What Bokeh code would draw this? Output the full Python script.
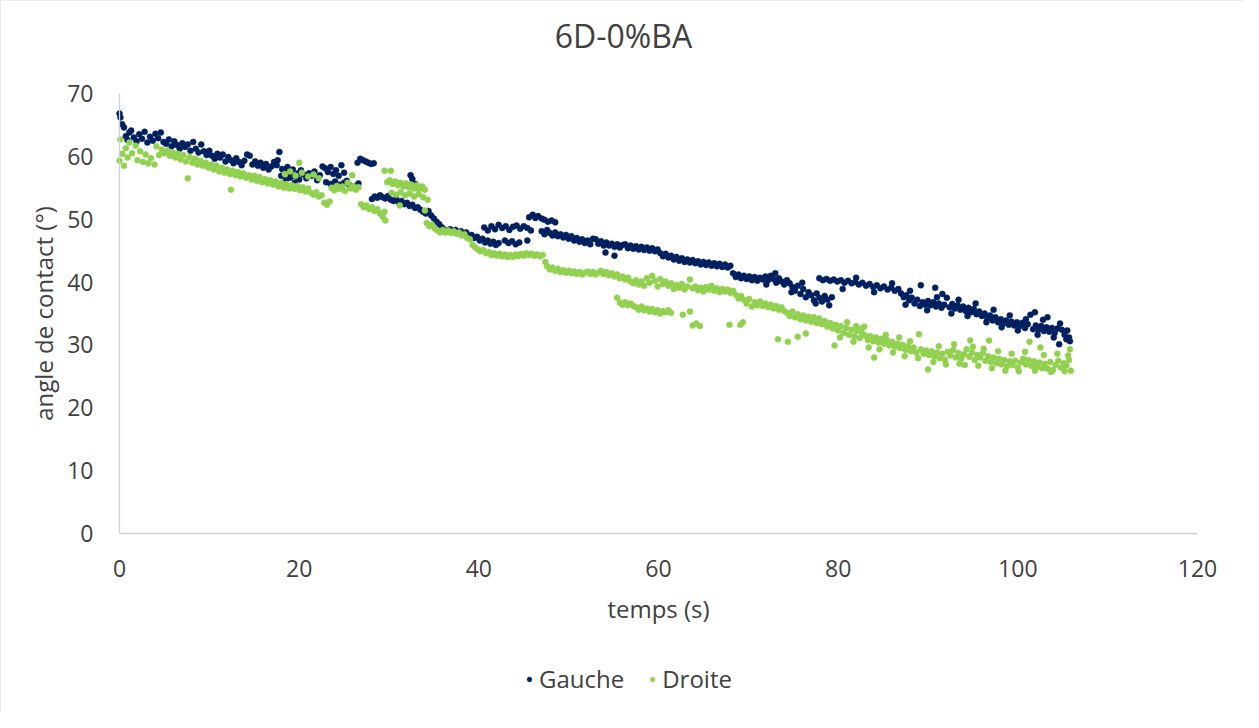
from bokeh.plotting import figure
from bokeh.models import Range1d, Legend, LegendItem, FixedTicker, ColumnDataSource, Label
from bokeh.embed import file_html
from bokeh.resources import INLINE

title_text = "6D-0%BA"
x_label = "temps (s)"
y_label = "angle de contact (°)"
series_names = ["Gauche", "Droite"]
x_ticks = [0, 20, 40, 60, 80, 100, 120]
y_ticks = [0, 10, 20, 30, 40, 50, 60, 70]

# (temps, angle)
gauche_points = [
    (0.0,66.8),(0.1,66.2),(0.3,65.1),(0.5,64.6),(0.7,63.2),(0.9,62.6),(1.1,63.8),(1.3,64.1),(1.6,63.0),(1.9,62.4),
    (2.2,63.5),(2.5,62.8),(2.8,63.9),(3.1,62.2),(3.4,63.1),(3.7,62.5),(4.0,63.6),(4.3,62.9),(4.6,63.8),(4.9,62.3),
    (5.2,62.0),(5.5,62.7),(5.8,61.6),(6.1,62.4),(6.4,61.8),(6.7,61.2),(7.0,62.1),(7.3,61.5),(7.6,61.9),(7.9,60.9),
    (8.2,62.3),(8.5,61.2),(8.8,60.6),(9.1,61.9),(9.4,60.8),(9.7,60.2),(10.0,60.9),
    (10.3,60.1),(10.6,59.6),(10.9,60.4),(11.2,59.8),(11.5,60.3),(11.8,59.2),(12.1,59.9),(12.4,59.4),(12.7,58.9),
    (13.0,59.7),(13.3,59.1),(13.6,58.6),(13.9,59.3),(14.2,60.3),(14.5,60.1),(14.8,58.7),(15.1,59.2),
    (15.4,58.5),(15.7,59.0),(16.0,58.2),(16.3,58.8),(16.6,57.9),(16.9,58.4),(17.2,59.1),(17.5,58.6),(17.8,60.7),
    (17.6,59.4),(18.1,58.0),(18.4,57.6),(18.7,58.3),(19.0,57.4),(19.3,57.9),(19.6,56.8),(19.9,57.3),
    (18.0,56.9),(18.5,56.2),(19.0,56.6),(19.5,55.8),(20.0,56.3),
    (20.2,57.8),(20.5,57.1),(20.8,56.5),(21.1,57.3),(21.4,56.9),(21.7,57.6),(22.0,56.2),(22.3,57.0),(22.6,58.4),
    (22.9,58.1),(23.2,57.5),(23.5,58.3),(23.8,57.2),(24.1,57.8),(24.4,56.9),(24.7,58.6),(25.0,57.4),(25.3,56.1),
    (23.0,55.9),(23.5,55.6),(24.0,56.0),(24.5,55.5),(25.0,55.8),(26.6,55.7),
    (25.6,55.4),(25.9,55.0),(26.2,55.3),(26.5,59.0),(26.8,59.6),(27.1,59.4),(27.4,59.2),(27.7,59.0),(28.0,58.8),(28.3,58.9),
    (28.1,53.2),(28.4,53.6),(28.7,53.4),(29.0,53.8),(29.3,53.5),(29.6,53.3),(29.9,53.7),(30.2,53.1),(30.5,52.9),
    (30.8,53.2),(31.1,52.7),(31.4,52.9),(31.7,52.4),(32.0,52.6),(32.3,52.1),(32.6,52.3),(32.9,51.8),(33.2,51.9),
    (33.5,51.5),(33.8,51.2),(34.1,50.9),(34.4,51.3),(34.7,50.6),(35.0,50.1),(35.3,49.6),(35.6,49.2),(35.9,48.7),(36.2,48.3),
    (32.4,57.0),(32.6,56.4),(32.9,55.6),(33.2,55.0),
    (36.5,48.1),(36.8,48.4),(37.1,48.0),(37.4,48.3),(37.7,47.8),(38.0,48.1),(38.3,47.6),(38.6,47.9),(38.9,47.3),
    (39.2,47.5),(39.5,47.0),(39.8,47.2),(40.1,46.6),(40.4,46.9),(40.7,46.3),(41.0,46.6),(41.3,46.1),(41.6,46.4),
    (41.9,45.9),(42.2,46.2),
    (40.6,48.7),(41.0,48.2),(41.4,48.9),(41.8,48.4),(42.2,49.1),(42.6,48.6),(43.0,48.9),(43.4,48.3),(43.8,48.8),
    (44.2,49.0),(44.6,48.5),(45.0,48.9),(45.4,48.6),(45.8,48.2),
    (42.9,46.6),(43.3,46.2),(43.7,46.5),(44.1,46.0),(44.5,46.3),(45.4,46.6),
    (45.6,50.3),(46.0,50.7),(46.3,50.2),(46.6,50.5),(47.0,50.1),(47.3,49.9),(47.7,49.6),(48.1,49.8),(48.5,49.5),
    (47.0,48.1),(47.3,47.6),(47.6,48.3),(47.9,47.8),(48.2,47.4),(48.5,47.9),(48.8,47.3),(49.1,47.6),(49.4,47.1),
    (49.7,47.5),(50.0,46.9),(50.3,47.3),(50.6,46.6),(50.9,47.0),(51.2,46.4),(51.5,46.8),(51.8,46.2),(52.1,46.6),
    (52.4,46.0),(52.7,46.9),(53.0,46.8),(53.3,46.1),(53.6,46.5),(53.9,45.8),(54.1,44.7),(55.1,44.2),
    (54.2,46.3),(54.5,45.8),(54.8,46.1),(55.1,45.6),(55.4,46.0),(55.7,45.5),(56.0,45.9),(56.3,46.0),(56.6,45.4),
    (56.9,45.8),(57.2,45.3),(57.5,45.7),(57.8,45.2),(58.1,45.6),(58.4,45.1),(58.7,45.5),(59.0,45.0),(59.3,45.4),
    (59.6,44.9),(59.9,45.2),(60.2,44.6),(60.5,44.1),(60.8,44.5),(61.1,43.9),(61.4,44.2),(61.7,43.6),(62.0,44.0),
    (62.3,43.4),(62.6,43.8),(62.9,43.2),(63.2,43.6),(63.5,43.1),(63.8,43.5),(64.1,43.0),(64.4,43.3),(64.7,42.8),
    (65.0,43.2),(65.3,42.7),(65.6,43.1),(65.9,42.6),(66.2,43.0),(66.5,42.5),(66.8,42.9),(67.1,42.4),(67.4,42.8),
    (67.7,42.3),(68.0,42.6),(68.3,41.4),(68.6,40.8),(68.9,41.2),(69.2,40.6),(69.5,41.0),(69.8,40.5),(70.1,40.9),
    (70.4,40.3),(70.7,40.8),(71.0,40.2),(71.3,40.7),(71.6,40.4),
    (71.9,40.9),(72.2,40.3),(72.5,41.0),(72.8,40.5),(73.1,39.9),(73.4,40.6),(73.7,40.1),(74.0,39.6),(74.3,40.3),
    (74.6,39.8),(74.9,39.2),(75.2,38.6),(75.5,39.4),(75.8,38.1),(76.1,38.9),(76.4,37.6),(76.7,38.4),(77.0,37.9),
    (77.3,37.1),(77.6,38.2),(77.9,37.5),(78.2,36.9),(78.5,37.8),(78.8,37.2),(79.0,36.3),(79.3,37.6),
    (77.9,40.6),(78.3,40.3),(78.7,40.5),(79.1,40.2),(79.5,40.4),(79.9,40.1),(80.3,40.3),(80.7,39.9),(81.1,40.2),
    (81.5,39.8),(81.9,40.0),(82.3,39.6),(82.7,39.9),(83.1,39.4),(83.5,39.7),(83.9,39.2),(84.3,39.5),(84.7,39.0),
    (85.1,39.3),(85.5,38.8),(85.9,39.1),(86.3,38.6),(86.7,38.9),
    (87.0,38.2),(87.3,37.6),(87.6,37.9),(87.9,37.1),(88.2,37.5),(88.5,36.6),(88.8,37.2),(89.1,36.2),(89.4,36.8),
    (89.2,39.5),(90.8,39.1),(91.6,38.1),
    (89.7,36.4),(90.0,37.0),(90.3,36.3),(90.6,36.8),(90.9,36.1),(91.2,36.6),(91.5,35.9),(91.8,36.4),(92.1,37.5),
    (92.4,36.0),(92.7,36.5),(93.0,35.8),(93.3,36.3),(93.6,35.6),(93.9,36.1),(94.2,35.4),(94.5,35.9),(94.8,35.2),
    (95.1,35.7),(95.4,34.9),(95.7,35.3),(96.0,34.6),(96.3,35.0),(96.6,34.2),(96.9,34.7),(97.2,33.9),(97.5,34.4),
    (97.8,33.6),(98.1,34.1),(98.4,33.4),(98.7,33.9),(99.0,33.2),(99.3,33.7),(99.6,33.1),(99.9,33.6),
    (100.2,33.0),(100.5,33.5),(100.8,32.7),(101.1,33.3),(101.4,34.8),(101.7,32.5),(101.9,35.2),(102.0,33.1),
    (102.3,32.4),(102.6,33.0),(102.9,32.2),(103.2,32.8),(103.3,34.4),(103.5,32.1),(103.8,32.7),(104.1,31.9),
    (104.4,32.6),(104.6,30.1),(104.9,32.4),(105.2,31.6),(105.5,32.3),(105.8,30.6),(105.7,31.2),
    (72.0,39.6),(73.0,41.4),(74.8,38.4),(76.0,39.9),(77.5,36.6),(80.5,38.9),(82.0,40.7),(84.0,38.4),(86.0,39.8),
    (87.5,36.4),(88.0,38.6),(89.9,35.5),(91.0,37.6),(92.6,35.0),(93.4,37.2),(94.4,34.6),(95.3,36.6),(96.5,33.6),
    (97.3,35.6),(98.2,32.8),(99.1,34.7),(100.0,32.3),(100.9,34.1),(102.2,31.6),(102.8,34.0),(104.0,31.2),
    (104.7,33.4),(105.4,30.9),
]

droite_points = [
    (0.0,59.3),(0.1,62.7),(0.3,60.4),(0.5,58.5),(0.7,61.3),(0.9,59.8),(1.1,62.2),(1.4,60.5),(1.8,61.7),(2.0,59.4),
    (2.3,60.8),(2.6,59.1),(2.9,60.3),(3.2,58.9),(3.5,59.7),(3.9,58.7),(4.1,61.6),(4.4,60.2),(4.7,61.1),(5.0,60.5),
    (5.3,60.9),(5.6,60.1),(5.9,60.6),(6.2,59.8),(6.5,60.4),(6.8,59.5),(7.1,60.2),(7.4,59.2),(7.6,56.5),(7.8,59.9),
    (8.1,59.0),(8.4,59.6),(8.7,58.7),(9.0,59.3),(9.3,58.5),(9.6,59.0),(9.9,58.2),(10.2,58.7),
    (10.5,57.9),(10.8,58.5),(11.1,57.6),(11.4,58.2),(11.7,57.4),(12.0,57.9),(12.4,54.7),(12.3,57.2),(12.6,57.7),
    (12.9,57.0),(13.2,57.5),(13.5,56.8),(13.8,57.3),(14.1,56.6),(14.4,57.0),(14.7,56.3),(15.0,56.9),
    (15.3,56.1),(15.6,56.7),(15.9,55.9),(16.2,56.4),(16.5,55.7),(16.8,56.2),(17.1,55.5),(17.4,56.0),(17.7,55.2),
    (18.0,55.8),(18.3,55.0),(18.6,55.6),(18.9,54.9),(19.2,55.4),(19.5,54.8),(19.8,55.3),(20.0,59.0),
    (18.4,57.2),(19.0,57.6),(19.6,56.9),(20.3,57.4),(21.0,56.8),(21.6,57.1),(22.2,56.5),
    (20.1,54.6),(20.4,55.1),(20.7,54.4),(21.0,54.9),(21.3,54.2),(21.6,53.9),(21.9,54.3),(22.2,53.6),(22.5,53.8),
    (22.8,52.6),(23.1,52.3),(23.4,52.8),
    (23.6,55.0),(23.9,54.6),(24.2,55.3),(24.5,54.8),(24.8,55.2),(25.1,54.5),(25.4,55.8),(25.7,54.9),(25.9,57.0),
    (26.0,55.3),(26.3,54.7),(26.6,55.1),
    (26.9,52.4),(27.2,51.9),(27.5,52.2),(27.8,51.6),(28.1,51.9),(28.4,51.3),(28.7,51.6),(29.0,50.9),(29.3,50.4),
    (29.6,49.8),(29.5,51.2),
    (29.5,57.7),(30.2,57.7),(29.8,55.9),(30.1,56.2),(30.4,55.6),(30.7,56.0),(31.0,55.4),(31.3,55.8),(31.6,55.2),
    (31.9,55.7),(32.2,55.1),(32.5,55.5),(32.8,54.9),(33.1,55.4),(33.4,54.8),(33.7,55.2),(34.0,54.7),
    (30.3,54.2),(30.8,53.9),(31.3,54.3),(31.8,53.8),(32.3,54.1),(32.8,53.6),(33.3,54.0),(33.8,53.5),(31.2,52.2),
    (34.3,53.1),(34.0,51.4),
    (34.2,49.4),(34.5,48.9),(34.8,49.1),(35.1,48.5),(35.4,48.2),(35.7,47.9),(36.0,48.3),
    (36.3,47.9),(36.6,48.2),(36.9,47.8),(37.2,48.1),(37.5,47.7),(37.8,47.9),(38.1,47.4),(38.4,47.6),(38.7,47.0),
    (39.0,46.8),
    (39.3,45.9),(39.6,45.5),(39.9,45.2),(40.2,44.9),(40.5,45.1),(40.8,44.6),(41.1,44.8),(41.4,44.3),(41.7,44.6),
    (42.0,44.2),
    (42.3,44.5),(42.6,44.1),(42.9,44.4),(43.2,44.0),(43.5,44.3),(43.8,44.0),(44.1,44.4),(44.4,44.1),(44.7,44.5),
    (45.0,44.2),(45.3,44.6),(45.6,44.3),(45.9,44.5),(46.2,44.2),(46.5,44.4),(46.8,44.1),(47.1,44.3),
    (47.4,43.2),(47.6,42.5),(47.9,42.0),(48.2,42.3),(48.5,41.8),(48.8,42.1),(49.1,41.6),(49.4,41.9),(49.7,41.5),
    (50.0,41.8),(50.3,41.4),(50.6,41.7),(50.9,41.3),(51.2,41.6),(51.5,41.2),(51.8,41.5),(52.1,41.7),(52.4,41.3),
    (52.7,41.6),(53.0,41.2),(53.3,41.5),(53.6,41.8),(53.9,41.3),(54.2,41.6),(54.5,41.1),(54.8,41.4),(55.1,40.9),
    (55.4,41.2),(55.7,40.6),(56.0,40.9),(56.3,40.4),(56.6,40.7),(56.9,40.1),
    (55.4,37.5),(55.7,36.7),(56.0,36.4),(56.3,36.8),(56.6,36.3),(56.9,36.6),(57.2,36.2),(57.5,36.0),(57.8,35.6),
    (58.1,36.1),(58.4,35.5),(58.7,35.8),(59.0,35.3),(59.3,35.7),(59.6,35.2),(59.9,35.5),(60.2,35.0),(60.5,35.4),
    (60.8,35.2),(61.1,35.5),(61.4,35.1),(62.7,34.8),(63.5,35.3),(63.8,33.1),(64.2,33.4),(64.6,33.0),
    (57.2,39.8),(57.5,40.3),(57.8,39.6),(58.1,40.1),(58.4,39.4),(58.7,40.6),(59.0,39.9),(59.3,41.0),(59.6,40.2),
    (59.9,39.3),(60.2,40.5),(60.5,39.7),(60.8,40.1),(61.1,39.4),(61.4,39.8),(61.7,38.9),(62.0,39.5),(62.3,39.1),
    (62.6,39.7),(62.9,38.8),(63.2,39.3),(63.5,40.4),(63.8,39.0),
    (64.1,39.3),(64.4,38.7),(64.7,39.1),(65.0,38.5),(65.3,39.2),(65.6,38.8),(65.9,39.4),(66.2,38.6),(66.5,39.0),
    (66.8,38.4),(67.1,38.9),(67.4,38.5),(67.7,38.8),(68.0,38.3),(68.3,38.6),
    (67.9,33.2),(69.1,33.2),(69.4,33.6),
    (68.6,38.0),(68.9,37.4),(69.2,37.8),(69.5,37.2),
    (69.8,36.6),(70.1,37.3),(70.4,36.1),(70.7,36.8),(71.0,36.3),(71.3,36.9),(71.6,36.2),(71.9,36.6),(72.2,36.0),
    (72.5,36.4),(72.8,35.8),(73.1,36.2),(73.4,35.6),(73.7,36.0),(74.0,35.4),
    (73.3,30.9),(74.4,30.5),(75.5,31.3),(76.4,31.8),
    (74.3,35.1),(74.6,34.6),(74.9,35.3),(75.2,34.4),(75.5,34.9),(75.8,34.1),(76.1,34.7),(76.4,33.9),(76.7,34.5),
    (77.0,33.7),(77.3,34.4),(77.6,33.5),(77.9,34.2),(78.2,33.3),
    (78.5,33.8),(78.8,32.9),(79.1,33.5),(79.4,32.6),(79.6,29.9),(79.7,33.2),(80.0,32.3),(80.3,33.0),(80.6,31.9),
    (80.9,32.7),(81.2,31.6),(81.5,32.4),(81.8,31.4),(82.1,32.2),(82.4,31.1),(82.7,31.8),
    (82.0,33.0),(82.6,32.6),(83.0,31.5),(83.3,30.8),(83.6,31.4),(83.9,30.6),(84.0,28.0),(84.2,31.2),(84.5,30.4),
    (84.8,31.0),(85.1,30.2),(85.4,30.8),(85.7,29.9),(86.0,30.5),(86.3,29.7),(86.6,30.2),(86.9,29.5),
    (87.2,30.0),(87.5,29.2),(87.8,29.8),(88.1,29.0),(88.4,29.6),(88.7,28.8),(89.0,31.7),(89.2,29.3),(89.5,28.6),
    (89.8,29.1),(90.0,26.1),(90.1,28.4),(90.4,29.0),(90.7,28.2),(91.0,28.8),(91.3,27.9),(91.6,28.6),(91.9,27.6),
    (92.2,28.9),(92.5,28.3),(92.8,29.2),(93.1,28.0),(93.4,28.7),(93.7,27.8),(94.0,28.5),(94.3,29.3),(94.7,30.7),
    (94.6,28.1),(94.9,28.8),(95.2,27.6),(95.5,28.4),
    (95.8,28.0),(96.1,28.7),(96.4,27.5),(96.8,30.7),(96.7,28.2),(97.0,27.3),(97.3,28.0),(97.6,27.1),(97.9,27.8),
    (98.2,26.9),(98.5,27.6),(98.8,26.6),(99.1,27.4),(99.4,26.8),(99.7,27.5),(100.0,26.4),(100.3,27.2),
    (100.6,27.8),(100.9,26.9),(101.2,27.6),(101.3,30.5),(101.5,26.7),(101.8,27.4),(102.1,26.5),(102.5,29.6),
    (102.4,27.2),(102.7,26.3),(103.0,27.0),(103.3,26.2),(103.6,27.3),(103.9,26.0),(104.2,26.8),(104.5,27.5),
    (104.8,26.4),(105.1,27.1),(105.4,26.7),(105.7,27.6),(105.8,29.3),(105.9,25.9),
    (80.2,31.2),(81.0,33.6),(81.7,30.5),(82.9,32.9),(83.4,29.6),(84.6,29.3),(85.3,31.6),(86.1,28.8),(86.8,31.2),
    (87.4,28.2),(88.0,30.6),(88.9,27.9),(90.6,27.3),(91.2,29.8),(92.0,26.9),(92.9,30.1),(93.5,27.0),(94.1,26.8),
    (95.0,29.7),(95.6,26.7),(96.2,29.4),(97.1,26.3),(97.8,29.0),(98.6,25.9),(99.3,28.6),(100.1,25.8),(100.8,28.9),
    (101.9,25.9),(102.9,28.4),(103.7,25.7),(104.4,28.6),(105.2,25.8),(105.6,28.3),
]

gauche_color = "#002060"
droite_color = "#92D050"
text_color = "#404040"
font = "Open Sans"

W, H = 1243, 712
X0_PX, X120_PX = 119, 1197       # canvas columns of x=0 and x=120
Y0_PX, Y70_PX = 533, 93          # canvas rows of y=0 and y=70
ppx = (X120_PX - X0_PX) / 120.0
ppy = (Y0_PX - Y70_PX) / 70.0
x_lo = -X0_PX / ppx
x_hi = 120 + (W - X120_PX) / ppx
y_lo = -(H - Y0_PX) / ppy
y_hi = 70 + Y70_PX / ppy

p = figure(width=W, height=H, output_backend="svg", toolbar_location=None,
           x_range=Range1d(x_lo, x_hi), y_range=Range1d(y_lo, y_hi),
           min_border_left=0, min_border_right=0, min_border_top=0, min_border_bottom=0)
p.styles = {"outline": "1px solid #d9d9d9", "outline-offset": "-1px"}
p.outline_line_color = None
p.xgrid.visible = False
p.ygrid.visible = False
p.background_fill_color = "white"
p.border_fill_color = "white"

src_g = ColumnDataSource(dict(x=[a for a, b in gauche_points], y=[b for a, b in gauche_points]))
src_d = ColumnDataSource(dict(x=[a for a, b in droite_points], y=[b for a, b in droite_points]))
r_g = p.scatter("x", "y", source=src_g, size=6, fill_color=gauche_color, line_color=gauche_color, line_width=0.5)
r_d = p.scatter("x", "y", source=src_d, size=6, fill_color=droite_color, line_color=droite_color, line_width=0.5)

for ax, ticks in ((p.xaxis[0], x_ticks), (p.yaxis[0], y_ticks)):
    ax.ticker = FixedTicker(ticks=ticks)
    ax.fixed_location = 0
    ax.major_tick_line_color = None
    ax.minor_tick_line_color = None
    ax.axis_line_color = "#d0d0d0"
    ax.axis_line_width = 1.3
    ax.major_label_text_font = font
    ax.major_label_text_font_size = "23px"
    ax.major_label_text_color = text_color
    ax.axis_label_text_font = font
    ax.axis_label_text_font_size = "24px"
    ax.axis_label_text_color = text_color
    ax.axis_label_text_font_style = "normal"
    ax.major_label_standoff = 20

p.xaxis.axis_label = x_label
p.yaxis.axis_label = y_label
p.xaxis.bounds = (0, 120)
p.yaxis.bounds = (0, 70)
p.xaxis.axis_label_standoff = 12
p.yaxis.axis_label_standoff = 4

title = Label(x=56.1, y=70 + (Y70_PX - 35) / ppy, text=title_text, text_align="center",
              text_baseline="middle", text_font=font, text_font_size="32px", text_color=text_color)
p.add_layout(title)

legend = Legend(items=[LegendItem(label=series_names[0], renderers=[r_g]),
                       LegendItem(label=series_names[1], renderers=[r_d])],
                location=(X0_PX + 404, 17), orientation="horizontal",
                label_text_font=font, label_text_font_size="24px", label_text_color=text_color,
                glyph_width=12, glyph_height=24, label_height=24, label_standoff=4, spacing=22,
                padding=0, margin=0, border_line_color=None, background_fill_alpha=0)
p.add_layout(legend, "center")

open("out.html", "w").write(file_html(p, INLINE))
